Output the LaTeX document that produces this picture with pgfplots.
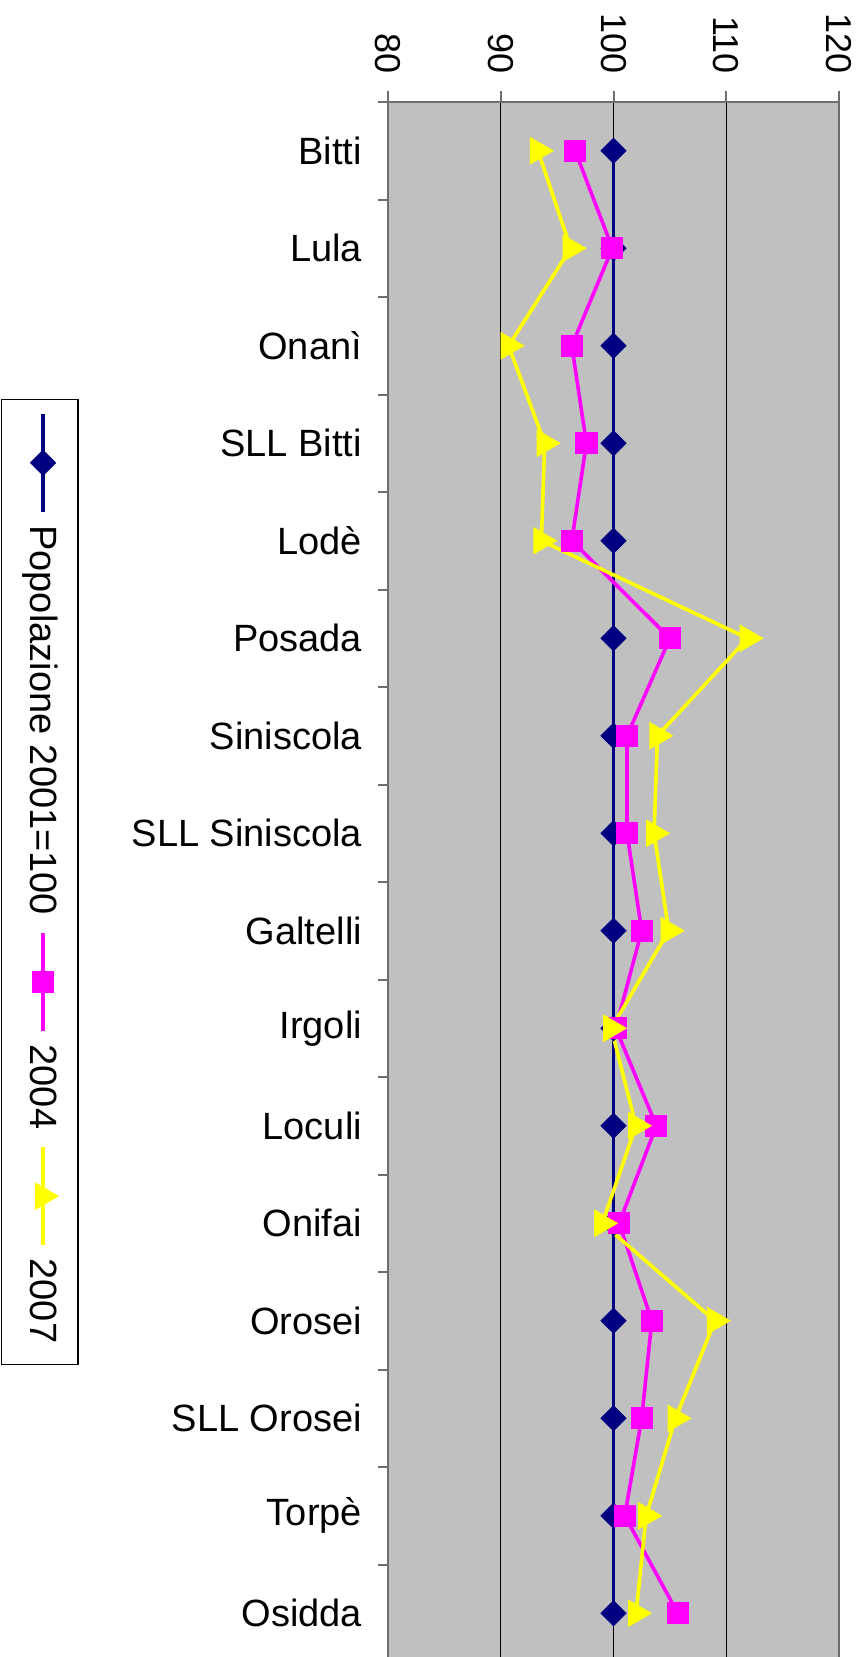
\documentclass[border=0pt]{standalone}
\usepackage{fontspec}
\setmainfont{Liberation Sans}
\usepackage{graphicx}
\usepackage{pgfplots}
\pgfplotsset{compat=1.18}
\usepackage{pgfplotstable}
\definecolor{navyx}{RGB}{0,0,128}
\definecolor{magx}{RGB}{255,0,255}
\definecolor{yelx}{RGB}{255,255,0}
\definecolor{bgx}{RGB}{192,192,192}
\definecolor{axx}{RGB}{110,110,110}
\newcommand{\vtxt}[1]{\raisebox{\depth}{\rotatebox{-90}{\rule[-4pt]{0pt}{17.6pt}#1}}}
\newcommand{\legimg}[1]{%
  \path[draw=none, fill=none] (0pt,0pt) -- (0pt,#1+56.5pt);
  \draw[overlay, mark repeat=2, mark phase=2] plot coordinates {(12.5pt,#1+7.5pt) (12.5pt,#1+32pt) (12.5pt,#1+56.5pt)};}

\pgfplotstableread{
idx p2001 p2004 p2007
1 100 96.6 93.3
2 100 99.9 96.2
3 100 96.3 90.7
4 100 97.6 93.9
5 100 96.3 93.6
6 100 105.0 111.9
7 100 101.2 103.9
8 100 101.2 103.6
9 100 102.5 104.9
10 100 100.2 99.8
11 100 103.8 102.0
12 100 100.5 99.0
13 100 103.4 109.0
14 100 102.5 105.5
15 100 101.0 102.9
16 100 105.7 102.0
}\datatab

\begin{document}
\begin{tikzpicture}
\useasboundingbox (0,0) rectangle (433pt,-828.5pt);
\begin{axis}[
  at={(194pt,-51pt)}, anchor=north west,
  scale only axis, width=225.5pt, height=780pt,
  xmin=80, xmax=120, ymin=0.5, ymax=16.5, y dir=reverse,
  axis background/.style={fill=bgx},
  axis line style={axx, line width=1pt},
  xtick={80,90,100,110,120},
  xticklabels={80,90,100,110,120},
  xtick pos=right, xticklabel pos=right,
  ytick pos=left,
  xmajorgrids, grid style={black, line width=0.6pt},
  tick align=outside,
  major tick length=5.5pt, minor tick length=5pt,
  every major x tick/.append style={axx, line width=1pt},
  xticklabel style={rotate=-90, anchor=east, font=\fontsize{18}{20}\selectfont},
  xticklabel shift=5pt,
  ytick={1,...,16},
  yticklabels={Bitti,Lula,Onanì,SLL Bitti,Lodè,Posada,Siniscola,SLL Siniscola,Galtelli,Irgoli,Loculi,Onifai,Orosei,SLL Orosei,Torpè,Osidda},
  every major y tick/.append style={draw=none},
  minor ytick={0.5,1.5,...,16.5},
  every minor y tick/.append style={axx, line width=1pt},
  yticklabel style={font=\fontsize{19}{22}\selectfont},
  yticklabel shift=4pt,
  /pgf/number format/assume math mode=true,
  legend cell align=left,
  legend style={at={(-0.772,0.5)}, anchor=center,
    legend columns=1, draw=black, line width=0.6pt, fill=white,
    font=\fontsize{19}{22}\selectfont, inner xsep=8.2pt, inner ysep=7pt,
    nodes={inner ysep=2pt},
    row sep=5.5pt, column sep=0pt},
]
\addplot[navyx, line width=1.8pt, mark=square*, mark size=4.4pt, mark options={rotate=45, solid, fill=navyx, draw=navyx, line width=0.5pt},
  legend image code/.code={\legimg{97.45pt}}] table[x=p2001, y=idx] {\datatab};
\addlegendentry{\vtxt{Popolazione 2001=100}}
\addplot[magx, line width=1.8pt, mark=square*, mark size=5.3pt, mark options={solid, fill=magx, draw=magx, line width=0.5pt},
  legend image code/.code={\legimg{21.15pt}}] table[x=p2004, y=idx] {\datatab};
\addlegendentry{\vtxt{2004}}
\addplot[yelx, line width=1.8pt, mark=triangle*, mark size=7.5pt, mark options={rotate=-90, solid, fill=yelx, draw=yelx, line width=0.5pt},
  legend image code/.code={\legimg{21.15pt}}] table[x=p2007, y=idx] {\datatab};
\addlegendentry{\vtxt{2007}}
\end{axis}
\end{tikzpicture}
\end{document}
